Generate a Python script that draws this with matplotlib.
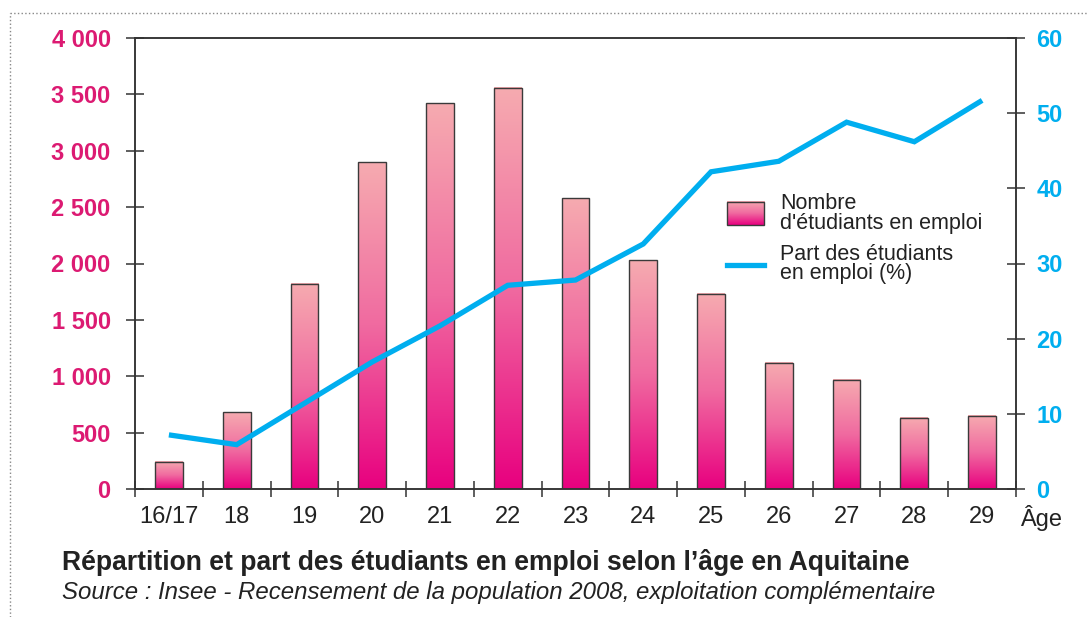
import numpy as np
import matplotlib
matplotlib.use('Agg')
import matplotlib.pyplot as plt
from matplotlib.colors import LinearSegmentedColormap
from matplotlib.lines import Line2D

plt.rcParams['font.family'] = ['Liberation Sans', 'DejaVu Sans']

# données
ages = ['16/17', '18', '19', '20', '21', '22', '23', '24', '25', '26', '27', '28', '29']
nombre = [240, 680, 1820, 2900, 3420, 3560, 2580, 2030, 1730, 1120, 970, 632, 650]
part = [7.2, 5.9, 11.4, 16.9, 21.7, 27.1, 27.8, 32.6, 42.2, 43.6, 48.8, 46.2, 51.7]

pink = '#dc1a72'
blue = '#00aeef'
dark = '#333333'

cmap = LinearSegmentedColormap.from_list('rose', ['#e8007f', '#f06aa0', '#f6abb0'])
grad = np.linspace(0, 1, 256).reshape(-1, 1)

fig = plt.figure(figsize=(10.87, 6.17), dpi=100)
ax = fig.add_axes([135/1087, 1-489/617, 881/1087, 451/617])
ax2 = ax.twinx()

x = np.arange(len(ages))
w = 0.41
for xi, v in zip(x, nombre):
    ax.imshow(grad, extent=[xi - w/2, xi + w/2, 0, v], origin='lower',
              cmap=cmap, aspect='auto', zorder=2)
ax.bar(x, nombre, width=w, facecolor='none', edgecolor='#3a3a3a', linewidth=1, zorder=3)

ax2.plot(x, part, color=blue, linewidth=3.8, solid_joinstyle='miter', solid_capstyle='butt')

ax.set_xlim(-0.5, 12.5)
ax.set_ylim(0, 4000)
ax2.set_ylim(0, 60)

ax.set_yticks(range(0, 4001, 500))
ax.set_yticklabels([f'{v:,}'.replace(',', ' ') for v in range(0, 4001, 500)],
                   color=pink, fontsize=17, fontweight='bold')
ax.tick_params(axis='y', direction='inout', length=13, width=1.1, color=dark, pad=11)

ax2.set_yticks(range(0, 61, 10))
ax2.set_yticklabels([str(v) for v in range(0, 61, 10)], color=blue, fontsize=17, fontweight='bold')
ax2.tick_params(axis='y', direction='inout', length=13, width=1.1, color=dark, pad=8)

ax.set_xticks(x)
ax.set_xticklabels(ages, fontsize=17, color='#222222')
ax.set_xticks(np.arange(-0.5, 13, 1), minor=True)
ax.tick_params(axis='x', which='major', length=0, pad=12)
ax.tick_params(axis='x', which='minor', direction='inout', length=11, width=1.1, color=dark)

for a in (ax, ax2):
    for s in a.spines.values():
        s.set_color(dark)
        s.set_linewidth(1.1)

ax.text(1.004, -0.036, 'Âge', transform=ax.transAxes, fontsize=17, color='#222222',
        ha='left', va='top')

# légende
ax2.imshow(grad, extent=[0.672, 0.714, 0.585, 0.636], origin='lower', cmap=cmap,
           aspect='auto', transform=ax2.transAxes, zorder=5)
ax2.add_patch(plt.Rectangle((0.672, 0.585), 0.042, 0.051, transform=ax2.transAxes,
                            facecolor='none', edgecolor='#3a3a3a', linewidth=1, zorder=6))
ax2.plot([0.672, 0.714], [0.497, 0.497], color=blue, linewidth=3.8, transform=ax2.transAxes)
ax2.text(0.732, 0.611, "Nombre\nd'étudiants en emploi", transform=ax2.transAxes,
         fontsize=15.5, color='#222222', va='center', ha='left', linespacing=0.93)
ax2.text(0.732, 0.499, "Part des étudiants\nen emploi (%)", transform=ax2.transAxes,
         fontsize=15.5, color='#222222', va='center', ha='left', linespacing=0.93)

ax2.set_xlim(-0.5, 12.5)
ax2.set_ylim(0, 60)
ax.set_ylim(0, 4000)

# titre et source
fig.text(62/1087, 1-562/617, "Répartition et part des étudiants en emploi selon l’âge en Aquitaine",
         fontsize=19.1, fontweight='bold', color='#222222', va='center', ha='left')
fig.text(62/1087, 1-592/617, "Source : Insee - Recensement de la population 2008, exploitation complémentaire",
         fontsize=17.3, style='italic', color='#222222', va='center', ha='left')

# cadre pointillé
fig.add_artist(Line2D([10/1087, 10/1087], [0, 1-13/617], transform=fig.transFigure,
                      color='#888888', linestyle=':', linewidth=1))
fig.add_artist(Line2D([10/1087, 1], [1-13/617, 1-13/617], transform=fig.transFigure,
                      color='#888888', linestyle=':', linewidth=1))

fig.savefig('out.png', dpi=100)
